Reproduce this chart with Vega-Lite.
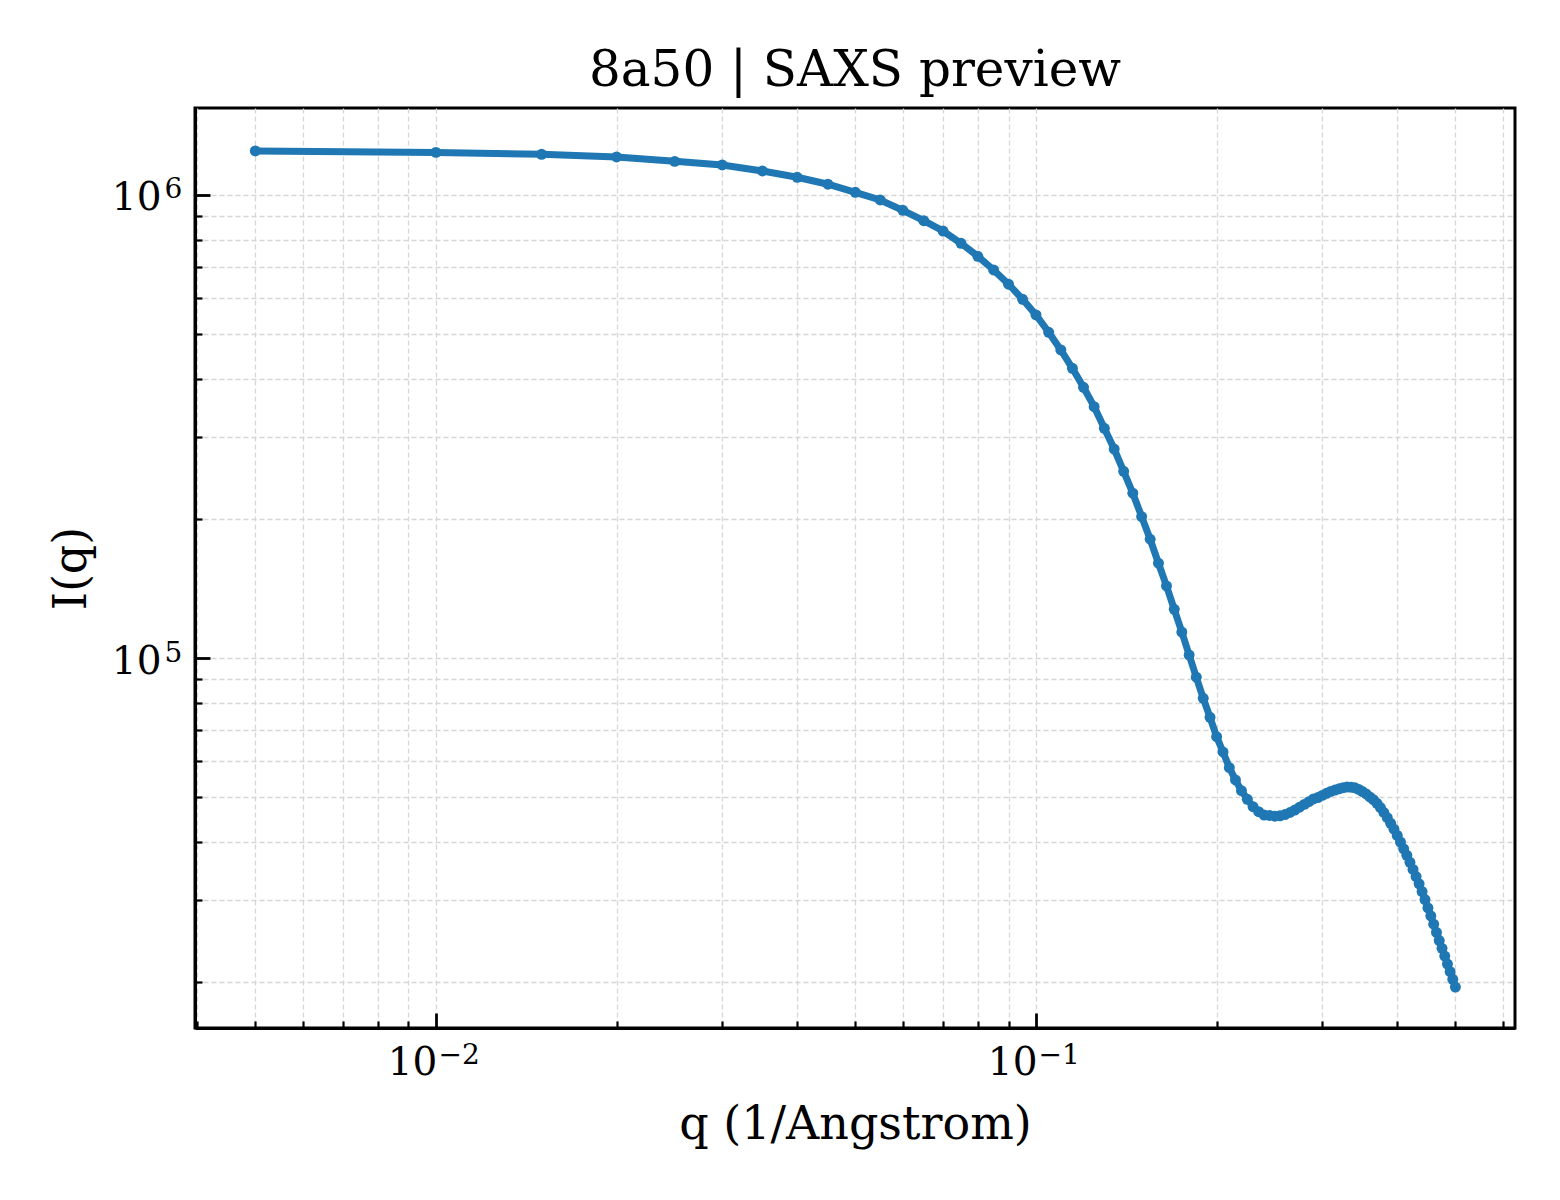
{
  "$schema": "https://vega.github.io/schema/vega-lite/v6.json",
  "description": "8a50 SAXS preview, log-log I(q) curve",
  "width": 1320,
  "height": 920,
  "autosize": {"type": "none"},
  "padding": {"left": 195, "top": 108, "right": 45, "bottom": 172},
  "background": "white",
  "title": {
    "text": "8a50 | SAXS preview",
    "font": "DejaVu Serif",
    "fontSize": 50,
    "fontWeight": "normal",
    "color": "black",
    "anchor": "middle",
    "offset": 12
  },
  "config": {
    "font": "DejaVu Serif",
    "view": {"stroke": "black", "strokeWidth": 3},
    "axis": {
      "domainColor": "black",
      "domainWidth": 3,
      "tickColor": "black",
      "labelColor": "black",
      "titleColor": "black",
      "labelFont": "DejaVu Serif",
      "titleFont": "DejaVu Serif",
      "titleFontSize": 46,
      "titleFontWeight": "normal",
      "gridColor": "#d6d6d6",
      "gridDash": [5, 3],
      "gridWidth": 1.3,
      "labelFlush": false,
      "labelOverlap": false
    }
  },
  "data": {
    "values": [
      {"q": 0.005, "I": 1245000},
      {"q": 0.010, "I": 1236000},
      {"q": 0.015, "I": 1224000},
      {"q": 0.020, "I": 1208000},
      {"q": 0.025, "I": 1182000},
      {"q": 0.030, "I": 1161000},
      {"q": 0.035, "I": 1127000},
      {"q": 0.040, "I": 1092000},
      {"q": 0.045, "I": 1055000},
      {"q": 0.050, "I": 1013500},
      {"q": 0.055, "I": 975400},
      {"q": 0.060, "I": 926700},
      {"q": 0.065, "I": 880000},
      {"q": 0.070, "I": 836000},
      {"q": 0.075, "I": 786400},
      {"q": 0.080, "I": 737300},
      {"q": 0.085, "I": 688700},
      {"q": 0.090, "I": 641600},
      {"q": 0.095, "I": 595300},
      {"q": 0.100, "I": 550600},
      {"q": 0.105, "I": 505200},
      {"q": 0.110, "I": 462700},
      {"q": 0.115, "I": 422400},
      {"q": 0.120, "I": 384300},
      {"q": 0.125, "I": 349000},
      {"q": 0.130, "I": 313400},
      {"q": 0.135, "I": 282700},
      {"q": 0.140, "I": 253100},
      {"q": 0.145, "I": 226900},
      {"q": 0.150, "I": 202000},
      {"q": 0.155, "I": 180500},
      {"q": 0.160, "I": 160200},
      {"q": 0.165, "I": 143100},
      {"q": 0.170, "I": 127400},
      {"q": 0.175, "I": 113800},
      {"q": 0.180, "I": 101500},
      {"q": 0.185, "I": 90880},
      {"q": 0.190, "I": 81850},
      {"q": 0.195, "I": 74460},
      {"q": 0.200, "I": 67610},
      {"q": 0.205, "I": 62660},
      {"q": 0.210, "I": 57970},
      {"q": 0.215, "I": 54520},
      {"q": 0.220, "I": 51700},
      {"q": 0.225, "I": 49530},
      {"q": 0.230, "I": 47740},
      {"q": 0.235, "I": 46560},
      {"q": 0.240, "I": 45800},
      {"q": 0.245, "I": 45710},
      {"q": 0.250, "I": 45530},
      {"q": 0.255, "I": 45620},
      {"q": 0.260, "I": 45920},
      {"q": 0.265, "I": 46380},
      {"q": 0.270, "I": 46940},
      {"q": 0.275, "I": 47630},
      {"q": 0.280, "I": 48290},
      {"q": 0.285, "I": 48940},
      {"q": 0.290, "I": 49610},
      {"q": 0.295, "I": 49970},
      {"q": 0.300, "I": 50500},
      {"q": 0.305, "I": 51030},
      {"q": 0.310, "I": 51490},
      {"q": 0.315, "I": 51870},
      {"q": 0.320, "I": 52180},
      {"q": 0.325, "I": 52480},
      {"q": 0.330, "I": 52630},
      {"q": 0.335, "I": 52600},
      {"q": 0.340, "I": 52450},
      {"q": 0.345, "I": 52030},
      {"q": 0.350, "I": 51460},
      {"q": 0.355, "I": 50850},
      {"q": 0.360, "I": 50120},
      {"q": 0.365, "I": 49430},
      {"q": 0.370, "I": 48550},
      {"q": 0.375, "I": 47530},
      {"q": 0.380, "I": 46380},
      {"q": 0.385, "I": 45200},
      {"q": 0.390, "I": 43950},
      {"q": 0.395, "I": 42680},
      {"q": 0.400, "I": 41380},
      {"q": 0.405, "I": 40050},
      {"q": 0.410, "I": 38710},
      {"q": 0.415, "I": 37480},
      {"q": 0.420, "I": 36200},
      {"q": 0.425, "I": 34950},
      {"q": 0.430, "I": 33720},
      {"q": 0.435, "I": 32530},
      {"q": 0.440, "I": 31310},
      {"q": 0.445, "I": 30090},
      {"q": 0.450, "I": 28860},
      {"q": 0.455, "I": 27750},
      {"q": 0.460, "I": 26610},
      {"q": 0.465, "I": 25550},
      {"q": 0.470, "I": 24540},
      {"q": 0.475, "I": 23600},
      {"q": 0.480, "I": 22710},
      {"q": 0.485, "I": 21830},
      {"q": 0.490, "I": 21010},
      {"q": 0.495, "I": 20230},
      {"q": 0.500, "I": 19470}
    ]
  },
  "layer": [
    {
      "mark": {
        "type": "line",
        "color": "#1f77b4",
        "strokeWidth": 7,
        "point": {"filled": true, "size": 120, "color": "#1f77b4", "opacity": 1}
      },
      "encoding": {
        "x": {
          "field": "q",
          "type": "quantitative",
          "scale": {"type": "log", "domain": [0.003967, 0.6285], "nice": false, "zero": false},
          "axis": {
            "orient": "bottom",
            "title": null,
            "labels": false,
            "grid": true,
            "values": [0.004, 0.005, 0.006, 0.007, 0.008, 0.009, 0.01, 0.02, 0.03, 0.04, 0.05, 0.06, 0.07, 0.08, 0.09, 0.1, 0.2, 0.3, 0.4, 0.5, 0.6],
            "tickSize": {"condition": {"test": "datum.value == 0.01 || datum.value == 0.1", "value": -15}, "value": -7},
            "tickWidth": {"condition": {"test": "datum.value == 0.01 || datum.value == 0.1", "value": 2.8}, "value": 2.2}
          }
        },
        "y": {
          "field": "I",
          "type": "quantitative",
          "scale": {"type": "log", "domain": [15882, 1541200], "nice": false, "zero": false},
          "axis": {
            "orient": "left",
            "title": null,
            "labels": false,
            "grid": true,
            "values": [20000, 30000, 40000, 50000, 60000, 70000, 80000, 90000, 100000, 200000, 300000, 400000, 500000, 600000, 700000, 800000, 900000, 1000000],
            "tickSize": {"condition": {"test": "datum.value == 100000 || datum.value == 1000000", "value": -15}, "value": -7},
            "tickWidth": {"condition": {"test": "datum.value == 100000 || datum.value == 1000000", "value": 2.8}, "value": 2.2}
          }
        }
      }
    },
    {
      "mark": {"type": "point", "opacity": 0},
      "encoding": {
        "x": {
          "field": "q",
          "type": "quantitative",
          "title": "q (1/Angstrom)",
          "scale": {"type": "log", "domain": [0.003967, 0.6285], "nice": false, "zero": false},
          "axis": {
            "orient": "bottom",
            "grid": false,
            "ticks": false,
            "domain": false,
            "values": [0.01, 0.1],
            "labelExpr": "'10'",
            "labelFontSize": 39,
            "labelAlign": "right",
            "labelBaseline": "top",
            "labelOffset": 1,
            "labelPadding": 15,
            "titlePadding": 20
          }
        },
        "y": {
          "field": "I",
          "type": "quantitative",
          "title": "I(q)",
          "scale": {"type": "log", "domain": [15882, 1541200], "nice": false, "zero": false},
          "axis": {
            "orient": "left",
            "grid": false,
            "ticks": false,
            "domain": false,
            "values": [100000, 1000000],
            "labelExpr": "'10'",
            "labelFontSize": 39,
            "labelAlign": "right",
            "labelBaseline": "middle",
            "labelOffset": 3,
            "labelPadding": 34,
            "titlePadding": 16
          }
        }
      }
    },
    {
      "mark": {"type": "point", "opacity": 0},
      "encoding": {
        "x": {
          "field": "q",
          "type": "quantitative",
          "scale": {"type": "log", "domain": [0.003967, 0.6285], "nice": false, "zero": false},
          "axis": {
            "orient": "bottom",
            "title": null,
            "grid": false,
            "ticks": false,
            "domain": false,
            "values": [0.01, 0.1],
            "labelExpr": "datum.value == 0.01 ? '−2' : '−1'",
            "labelFontSize": 28,
            "labelAlign": "left",
            "labelBaseline": "top",
            "labelOffset": 2,
            "labelPadding": 13
          }
        },
        "y": {
          "field": "I",
          "type": "quantitative",
          "scale": {"type": "log", "domain": [15882, 1541200], "nice": false, "zero": false},
          "axis": {
            "orient": "left",
            "title": null,
            "grid": false,
            "ticks": false,
            "domain": false,
            "values": [100000, 1000000],
            "labelExpr": "datum.value == 100000 ? '5' : '6'",
            "labelFontSize": 28,
            "labelAlign": "left",
            "labelBaseline": "top",
            "labelOffset": -19,
            "labelPadding": 31
          }
        }
      }
    }
  ],
  "resolve": {"axis": {"x": "independent", "y": "independent"}}
}
